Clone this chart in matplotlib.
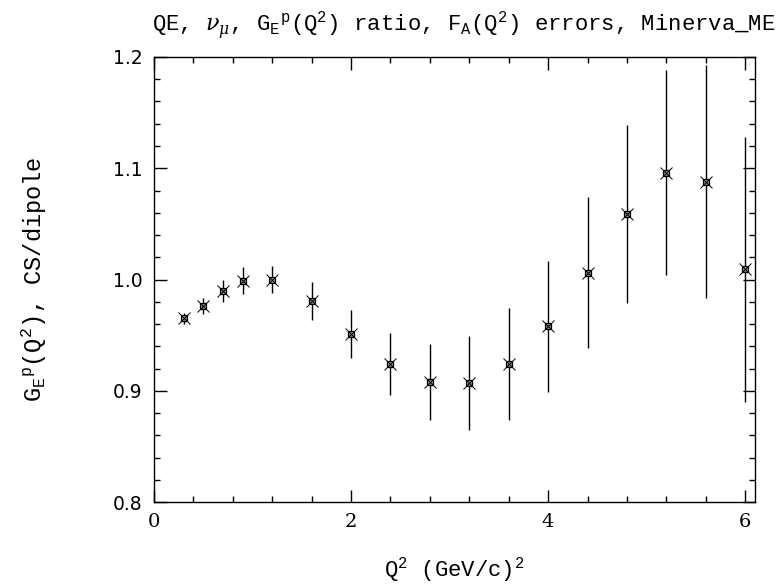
import numpy as np
import matplotlib
matplotlib.use('Agg')
import matplotlib.pyplot as plt
from matplotlib.ticker import MultipleLocator

# Q^2 points and G_E^p ratio with F_A errors
q2 = [0.3, 0.5, 0.7, 0.9, 1.2, 1.6, 2.0, 2.4, 2.8, 3.2, 3.6, 4.0, 4.4, 4.8, 5.2, 5.6, 6.0]
ratio = [0.965, 0.976, 0.990, 0.999, 1.000, 0.981, 0.951, 0.924, 0.908, 0.907,
         0.924, 0.958, 1.006, 1.059, 1.096, 1.088, 1.009]
err = [0.005, 0.007, 0.010, 0.012, 0.012, 0.017, 0.022, 0.028, 0.034, 0.042,
       0.050, 0.059, 0.068, 0.080, 0.092, 0.105, 0.119]

plt.rcParams['font.family'] = ['Liberation Mono', 'DejaVu Serif']
plt.rcParams['mathtext.fontset'] = 'custom'
plt.rcParams['mathtext.rm'] = 'Liberation Mono'
plt.rcParams['mathtext.it'] = 'DejaVu Serif:italic'

fig = plt.figure(figsize=(7.8, 5.84), dpi=100)
ax = fig.add_axes([0.1974, 0.1404, 0.7706, 0.762])

ax.errorbar(q2, ratio, yerr=err, fmt='none', ecolor='k', elinewidth=1.0, capsize=0)
ax.plot(q2, ratio, 's', ms=5, mfc='0.55', mec='k', mew=0.9, ls='none')
ax.plot(q2, ratio, 'x', ms=8, mec='k', mew=0.7, ls='none')

ax.set_xlim(0, 6.1)
ax.set_ylim(0.8, 1.2)
ax.xaxis.set_major_locator(MultipleLocator(2))
ax.xaxis.set_minor_locator(MultipleLocator(0.4))
ax.yaxis.set_major_locator(MultipleLocator(0.1))
ax.yaxis.set_minor_locator(MultipleLocator(0.02))
ax.tick_params(which='both', direction='in', top=True, right=True, width=1.0)
ax.tick_params(which='major', length=9)
ax.tick_params(which='minor', length=4)
ax.tick_params(axis='x', labelsize=14, pad=8)
ax.tick_params(axis='y', labelsize=13.5, pad=8)
ax.set_xticks([0, 2, 4, 6])
ax.set_xticklabels(['0', '2', '4', '6'], family='DejaVu Serif')
ax.set_yticks([0.8, 0.9, 1.0, 1.1, 1.2])
ax.set_yticklabels(['0.8', '0.9', '1.0', '1.1', '1.2'], family='DejaVu Sans')
for s in ax.spines.values():
    s.set_linewidth(1.0)

ax.set_xlabel(r'Q$^{\rm 2}$ (GeV/c)$^{\rm 2}$', fontsize=16, labelpad=17)
ax.set_ylabel(r'G$_{\rm E}$$^{\rm p}$(Q$^{\rm 2}$), CS/dipole', fontsize=17, labelpad=46)
fig.text(0.595, 0.958, r'QE, $\nu_\mu$, G$_{\rm E}$$^{\rm p}$(Q$^{\rm 2}$) ratio, F$_{\rm A}$(Q$^{\rm 2}$) errors, Minerva_ME',
         ha='center', va='center', fontsize=16)

fig.savefig('out.png', dpi=100)
